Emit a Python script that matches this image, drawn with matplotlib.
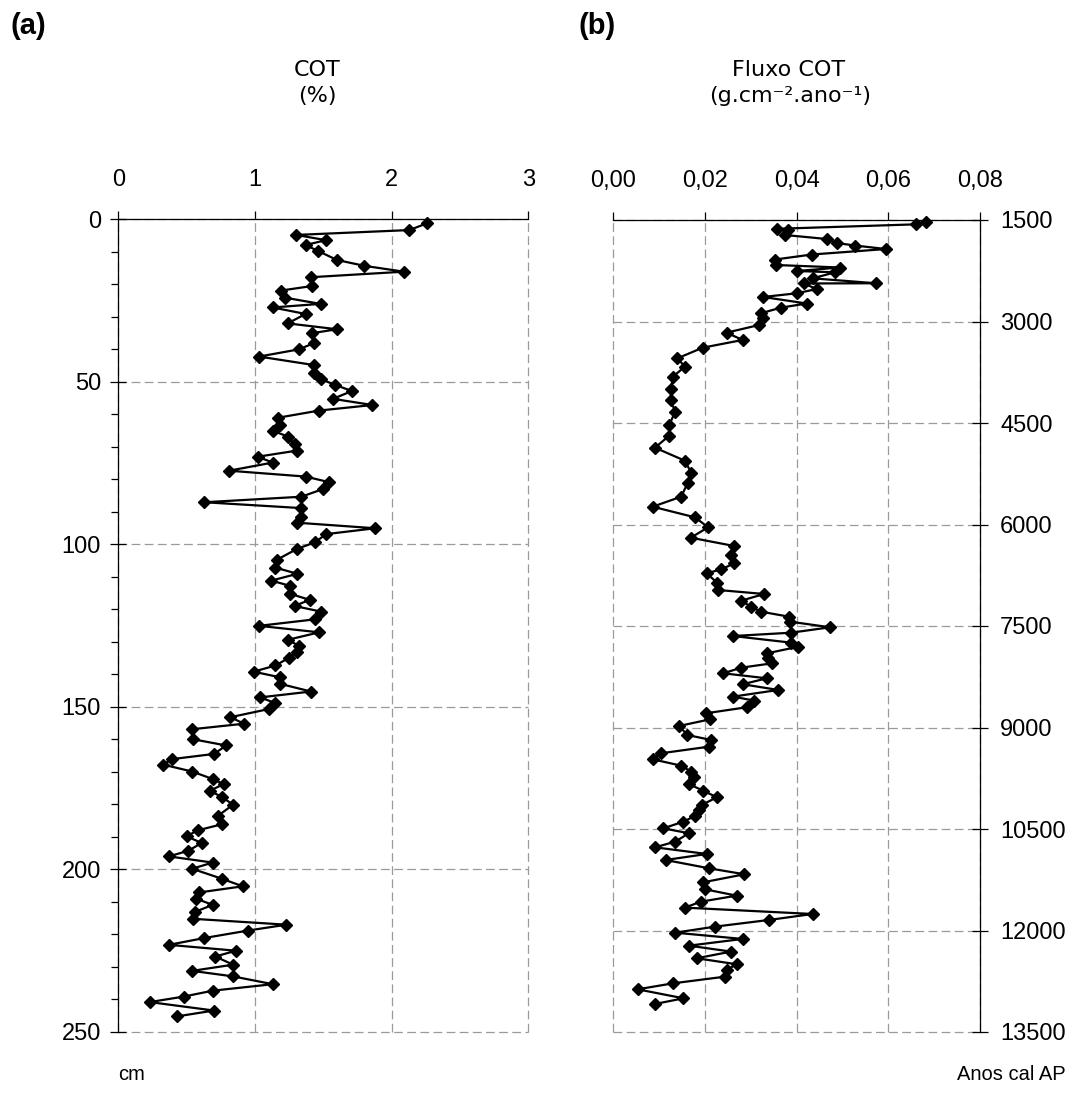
import matplotlib
matplotlib.use("Agg")
import matplotlib.pyplot as plt
from matplotlib.ticker import MultipleLocator

# ---- data ----
# (a) COT (%) vs depth (cm)
depth_cm = [1.3, 3.4, 4.9, 6.5, 8.0, 9.8, 12.6, 14.4, 16.2, 17.9,
            20.6, 22.0, 24.2, 26.1, 27.2, 29.2, 32.1, 33.9, 35.1, 38.2,
            40.1, 42.3, 44.9, 47.4, 49.2, 51.0, 52.9, 55.3, 57.2, 58.9,
            61.1, 63.3, 65.1, 66.9, 69.3, 71.2, 73.1, 74.9, 77.4, 79.2,
            80.9, 83.0, 85.4, 87.1, 88.9, 91.5, 93.4, 95.1, 96.9, 99.4,
            101.5, 104.8, 107.2, 109.1, 111.2, 112.8, 115.3, 117.1, 119.0, 120.7,
            123.1, 125.1, 127.1, 129.4, 131.2, 133.0, 134.9, 137.3, 139.2, 140.9,
            142.9, 145.3, 147.1, 148.9, 150.7, 153.2, 155.2, 156.9, 160.0, 161.9,
            164.5, 166.1, 167.8, 169.9, 172.2, 173.8, 175.8, 177.8, 180.1, 183.5,
            186.1, 188.0, 189.8, 191.9, 194.3, 196.0, 197.9, 199.8, 202.9, 205.2,
            207.1, 209.0, 210.9, 213.1, 215.2, 217.0, 218.8, 221.1, 223.2, 225.0,
            226.8, 229.3, 231.2, 232.9, 235.3, 237.3, 239.1, 240.8, 243.4, 245.2]
cot_pct = [2.26, 2.13, 1.30, 1.52, 1.37, 1.46, 1.60, 1.80, 2.09, 1.41,
           1.42, 1.19, 1.22, 1.48, 1.13, 1.37, 1.24, 1.60, 1.42, 1.43,
           1.32, 1.03, 1.43, 1.43, 1.48, 1.585, 1.71, 1.57, 1.86, 1.47,
           1.17, 1.18, 1.13, 1.24, 1.29, 1.31, 1.02, 1.13, 0.81, 1.37,
           1.54, 1.50, 1.34, 0.63, 1.34, 1.34, 1.31, 1.88, 1.52, 1.44,
           1.305, 1.16, 1.15, 1.31, 1.12, 1.256, 1.26, 1.40, 1.29, 1.48,
           1.44, 1.03, 1.47, 1.24, 1.32, 1.31, 1.25, 1.15, 0.99, 1.18,
           1.18, 1.41, 1.04, 1.15, 1.10, 0.82, 0.92, 0.54, 0.55, 0.79,
           0.70, 0.39, 0.33, 0.54, 0.69, 0.77, 0.67, 0.76, 0.84, 0.73,
           0.76, 0.58, 0.50, 0.61, 0.51, 0.37, 0.69, 0.54, 0.76, 0.91,
           0.59, 0.57, 0.69, 0.56, 0.55, 1.23, 0.95, 0.63, 0.37, 0.86,
           0.71, 0.84, 0.54, 0.84, 1.13, 0.69, 0.48, 0.23, 0.70, 0.43]

# (b) COT flux (g.cm-2.ano-1) vs age (anos cal AP)
age_cal = [1534, 1564, 1630, 1655, 1722, 1781, 1840, 1877, 1929, 2010,
           2084, 2165, 2202, 2254, 2273, 2362, 2435, 2438, 2520, 2583,
           2638, 2734, 2796, 2879, 2953, 3052, 3165, 3273, 3387, 3544,
           3668, 3816, 4002, 4160, 4333, 4529, 4687, 4865, 5057, 5234,
           5391, 5589, 5737, 5894, 6041, 6195, 6318, 6451, 6573, 6662,
           6721, 6860, 6968, 7027, 7126, 7214, 7288, 7362, 7436, 7519,
           7599, 7648, 7746, 7806, 7904, 7968, 8051, 8116, 8199, 8273,
           8361, 8445, 8544, 8603, 8701, 8790, 8879, 8977, 9110, 9184,
           9283, 9381, 9470, 9564, 9653, 9727, 9839, 9934, 10031, 10145,
           10219, 10307, 10392, 10490, 10563, 10687, 10771, 10869, 10958, 11081,
           11169, 11288, 11391, 11485, 11574, 11662, 11756, 11844, 11943, 12032,
           12125, 12224, 12312, 12410, 12499, 12583, 12682, 12780, 12869, 13002,
           13086]
flux_cot = [0.0682, 0.0660, 0.0357, 0.0382, 0.0375, 0.0466, 0.0487, 0.0527, 0.0595, 0.0433,
            0.0353, 0.0355, 0.0495, 0.0400, 0.0484, 0.0435, 0.0573, 0.0415, 0.0444, 0.0400,
            0.0327, 0.0422, 0.0365, 0.0322, 0.0327, 0.0318, 0.0247, 0.0282, 0.0195, 0.0140,
            0.0156, 0.0130, 0.0126, 0.0125, 0.0135, 0.0122, 0.0122, 0.0091, 0.0156, 0.0170,
            0.0162, 0.0148, 0.0086, 0.0178, 0.0207, 0.0169, 0.0264, 0.0257, 0.0264, 0.0236,
            0.0204, 0.0226, 0.0229, 0.0329, 0.0279, 0.0300, 0.0322, 0.0383, 0.0386, 0.0473,
            0.0388, 0.0261, 0.0388, 0.0404, 0.0335, 0.0337, 0.0347, 0.0279, 0.0240, 0.0335,
            0.0282, 0.0360, 0.0261, 0.0308, 0.0291, 0.0202, 0.0211, 0.0144, 0.0161, 0.0213,
            0.0209, 0.0104, 0.0086, 0.0148, 0.0170, 0.0177, 0.0166, 0.0196, 0.0226, 0.0193,
            0.0188, 0.0178, 0.0153, 0.0109, 0.0165, 0.0135, 0.0091, 0.0204, 0.0114, 0.0209,
            0.0286, 0.0196, 0.0200, 0.0269, 0.0191, 0.0156, 0.0435, 0.0340, 0.0222, 0.0135,
            0.0282, 0.0165, 0.0257, 0.0182, 0.0269, 0.0247, 0.0244, 0.0131, 0.0053, 0.0153,
            0.0091]

cot_ticks = [0, 1, 2, 3]
cot_ticklabels = ["0", "1", "2", "3"]
depth_ticks = [0, 50, 100, 150, 200, 250]
flux_ticks = [0.00, 0.02, 0.04, 0.06, 0.08]
flux_ticklabels = ["0,00", "0,02", "0,04", "0,06", "0,08"]
age_ticks = [1500, 3000, 4500, 6000, 7500, 9000, 10500, 12000, 13500]

W, H = 1074, 1102
ARIAL = "Liberation Sans"
TICK_FS = 17

fig = plt.figure(figsize=(W / 100, H / 100), dpi=100)


def frac_box(x0, x1, y_top, y_bot):
    return [x0 / W, 1 - y_bot / H, (x1 - x0) / W, (y_bot - y_top) / H]


def style_common(ax):
    ax.set_axisbelow(True)
    ax.grid(True, which="major", color="#9a9a9a", lw=0.9, ls=(0, (7, 3.5)))
    ax.xaxis.tick_top()
    ax.tick_params(axis="x", direction="out", length=5.5, width=0.9, pad=14.5,
                   labelsize=TICK_FS, labelfontfamily=ARIAL)
    for sp in ax.spines.values():
        sp.set_linewidth(0.9)


def unclip_grid(ax):
    # gridlines sitting on the axis limits would otherwise be half clipped
    for gl in ax.get_xgridlines() + ax.get_ygridlines():
        gl.set_clip_on(False)


# ---- (a) ----
ax_a = fig.add_axes(frac_box(118.3, 528.3, 219, 1032))
ax_a.plot(cot_pct, depth_cm, "-D", color="black", lw=1.6, ms=6, clip_on=False)
ax_a.set_xlim(0, 3)
ax_a.set_ylim(250, 0)
style_common(ax_a)
ax_a.set_xticks(cot_ticks, labels=cot_ticklabels)
ax_a.set_yticks(depth_ticks)
ax_a.yaxis.set_minor_locator(MultipleLocator(10))
ax_a.tick_params(axis="y", which="major", direction="inout", length=12, width=0.9,
                 pad=6.5, labelsize=TICK_FS, labelfontfamily=ARIAL)
ax_a.tick_params(axis="y", which="minor", direction="out", length=5, width=0.9)
ax_a.spines["right"].set_visible(False)
ax_a.spines["bottom"].set_visible(False)
unclip_grid(ax_a)

# ---- (b) ----
ax_b = fig.add_axes(frac_box(613.3, 980, 220, 1032))
ax_b.plot(flux_cot, age_cal, "-D", color="black", lw=1.6, ms=6, clip_on=False)
ax_b.set_xlim(0, 0.08)
ax_b.set_ylim(13500, 1500)
style_common(ax_b)
ax_b.set_xticks(flux_ticks, labels=flux_ticklabels)
ax_b.yaxis.tick_right()
ax_b.set_yticks(age_ticks)
ax_b.tick_params(axis="y", direction="inout", length=11, width=0.9, pad=9,
                 labelsize=TICK_FS, labelfontfamily=ARIAL)
ax_b.spines["left"].set_visible(False)
ax_b.spines["bottom"].set_visible(False)
unclip_grid(ax_b)

# ---- texts ----
fig.text(10 / W, 1 - 26 / H, "(a)", ha="left", va="center", fontsize=21,
         fontweight="bold", family=ARIAL)
fig.text(578 / W, 1 - 26 / H, "(b)", ha="left", va="center", fontsize=21,
         fontweight="bold", family=ARIAL)
fig.text(317 / W, 1 - 70 / H, "COT", ha="center", va="center", fontsize=16,
         family="DejaVu Sans")
fig.text(317 / W, 1 - 96 / H, "(%)", ha="center", va="center", fontsize=16,
         family="DejaVu Sans")
fig.text(789 / W, 1 - 70 / H, "Fluxo COT", ha="center", va="center", fontsize=16,
         family="DejaVu Sans")
fig.text(790 / W, 1 - 96 / H, "(g.cm\u207b\u00b2.ano\u207b\u00b9)", ha="center",
         va="center", fontsize=16, family="DejaVu Sans")
fig.text(118 / W, 1 - 1075 / H, "cm", ha="left", va="center", fontsize=14.5,
         family=ARIAL)
fig.text(1066 / W, 1 - 1075 / H, "Anos cal AP", ha="right", va="center",
         fontsize=14.5, family=ARIAL)

fig.savefig("out.png", dpi=100)
